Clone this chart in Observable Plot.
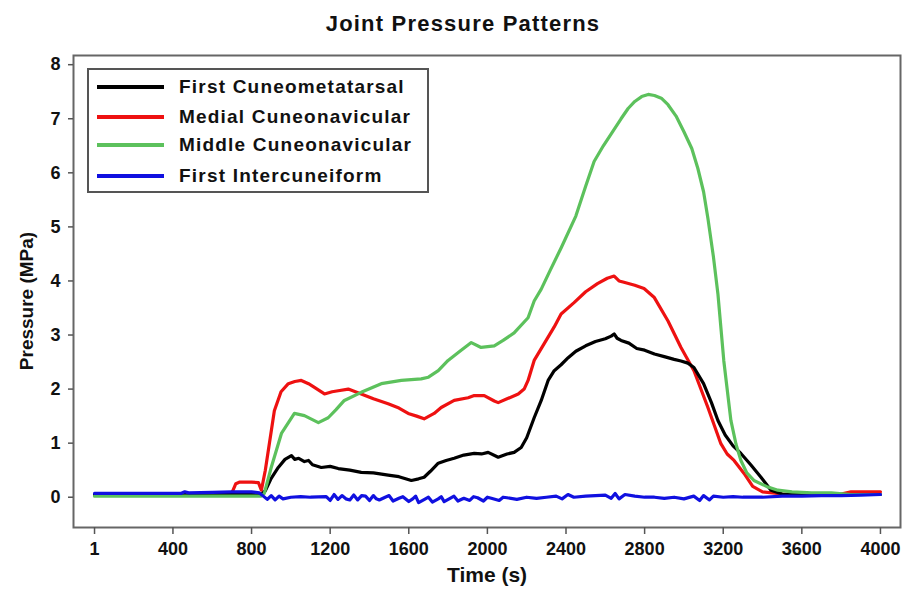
<!DOCTYPE html>
<html><head><meta charset="utf-8">
<script src="https://cdn.jsdelivr.net/npm/d3@7"></script>
<script src="https://cdn.jsdelivr.net/npm/@observablehq/plot@0.6"></script>
<style>
body{margin:0;background:#fff;font-family:"Liberation Sans",Arial,sans-serif;}
#wrap{position:relative;width:904px;height:590px;overflow:hidden;}
.lbl{position:absolute;white-space:nowrap;line-height:1;font-weight:bold;color:#111;}
#legend{position:absolute;left:87px;top:68px;width:338px;height:121px;border:2px solid #555;}
.lgline{position:absolute;left:8px;width:67px;height:4px;}
.lgtext{position:absolute;left:90px;white-space:nowrap;line-height:1;font-size:19px;font-weight:bold;letter-spacing:1.2px;color:#111;}
</style></head><body><div id="wrap"></div>
<script>
// ---- data ----
const title = "Joint Pressure Patterns";
const xLabel = "Time (s)";
const yLabel = "Pressure (MPa)";
const xTicks = [1, 400, 800, 1200, 1600, 2000, 2400, 2800, 3200, 3600, 4000];
const yTicks = [0, 1, 2, 3, 4, 5, 6, 7, 8];
const seriesNames = ["First Cuneometatarsal", "Medial Cuneonavicular", "Middle Cuneonavicular", "First Intercuneiform"];
const seriesColors = ["#000000", "#ee1111", "#5cc15c", "#1010e0"];

const tBlack = [1,200,400,600,800,850,870,900,936,970,1003,1020,1040,1069,1090,1110,1155,1200,1241,1300,1358,1420,1495,1550,1613,1650,1678,1710,1750,1790,1831,1880,1933,1970,2004,2055,2100,2136,2172,2200,2238,2274,2309,2340,2375,2411,2450,2500,2550,2600,2630,2645,2660,2680,2720,2760,2800,2850,2900,2950,2985,3020,3051,3100,3140,3173,3210,3250,3290,3340,3392,3443,3500,3600,3700,3800,3900,4000];
const vBlack = [0.05,0.05,0.05,0.05,0.05,0.05,0.12,0.35,0.55,0.7,0.77,0.7,0.72,0.66,0.68,0.6,0.55,0.57,0.53,0.5,0.46,0.45,0.41,0.38,0.31,0.34,0.37,0.48,0.63,0.68,0.72,0.78,0.81,0.8,0.83,0.74,0.8,0.83,0.92,1.1,1.47,1.79,2.16,2.34,2.45,2.58,2.7,2.8,2.88,2.93,2.98,3.02,2.94,2.9,2.85,2.75,2.72,2.65,2.6,2.55,2.52,2.48,2.4,2.1,1.75,1.42,1.15,0.95,0.81,0.6,0.37,0.13,0.06,0.05,0.05,0.05,0.05,0.05];

const tRed = [1,300,600,700,720,740,800,835,850,870,916,950,987,1020,1053,1090,1120,1171,1210,1241,1292,1358,1420,1495,1550,1597,1640,1678,1729,1765,1831,1902,1933,1984,2035,2055,2100,2157,2187,2207,2238,2289,2340,2375,2441,2500,2560,2610,2645,2670,2690,2750,2797,2848,2919,2985,3051,3122,3188,3220,3255,3306,3350,3400,3500,3600,3700,3800,3850,3900,4000];
const vRed = [0.05,0.05,0.05,0.08,0.25,0.28,0.28,0.27,0.13,0.5,1.6,1.95,2.1,2.14,2.16,2.1,2.03,1.91,1.95,1.97,2.0,1.91,1.82,1.73,1.65,1.55,1.5,1.45,1.55,1.66,1.79,1.84,1.88,1.88,1.78,1.75,1.82,1.91,2.0,2.16,2.53,2.84,3.15,3.39,3.6,3.8,3.95,4.05,4.09,4.0,3.98,3.92,3.86,3.7,3.26,2.77,2.34,1.66,0.99,0.8,0.68,0.44,0.2,0.1,0.06,0.05,0.05,0.06,0.1,0.1,0.1];

const tGreen = [1,400,800,850,865,900,952,1018,1069,1140,1190,1230,1272,1358,1460,1562,1663,1700,1750,1800,1860,1918,1968,2035,2080,2136,2207,2238,2274,2320,2375,2450,2500,2543,2590,2630,2680,2716,2750,2785,2818,2850,2885,2919,2960,3000,3040,3071,3100,3122,3150,3173,3203,3239,3265,3290,3320,3356,3420,3478,3550,3650,3750,3850,4000];
const vGreen = [0.02,0.02,0.02,0.02,0.07,0.55,1.18,1.55,1.51,1.38,1.47,1.62,1.79,1.94,2.1,2.16,2.19,2.22,2.34,2.53,2.7,2.86,2.77,2.8,2.9,3.04,3.32,3.63,3.85,4.2,4.61,5.2,5.75,6.21,6.5,6.72,7.0,7.19,7.32,7.41,7.45,7.43,7.38,7.26,7.05,6.76,6.45,6.08,5.65,5.16,4.45,3.76,2.52,1.42,0.98,0.68,0.45,0.31,0.2,0.13,0.1,0.08,0.08,0.05,0.05];

const tBlue = [1,300,440,460,480,600,700,800,840,860,880,900,920,940,960,1000,1050,1100,1180,1200,1220,1240,1260,1280,1300,1320,1340,1360,1380,1400,1420,1435,1450,1480,1500,1520,1550,1570,1600,1620,1635,1650,1680,1700,1720,1750,1765,1780,1810,1830,1850,1880,1910,1930,1950,1980,2000,2020,2060,2080,2100,2150,2200,2250,2300,2350,2380,2410,2440,2500,2550,2600,2630,2650,2670,2700,2750,2800,2850,2900,2950,3000,3050,3080,3100,3130,3150,3200,3250,3300,3400,3500,3600,3700,3800,3900,4000];
const vBlue = [0.07,0.07,0.07,0.1,0.08,0.09,0.1,0.1,0.08,0.02,-0.04,0.03,-0.05,0.02,-0.03,0.0,0.01,0.0,0.01,-0.06,0.05,-0.04,0.03,-0.03,-0.05,0.04,-0.05,0.03,0.02,-0.06,0.03,-0.03,-0.05,0.0,0.03,-0.07,-0.02,0.01,-0.08,-0.03,0.02,-0.1,-0.04,0.0,-0.09,-0.03,0.01,-0.08,-0.02,0.02,-0.07,-0.02,-0.06,0.01,-0.01,-0.07,0.0,-0.02,-0.06,0.0,-0.01,-0.04,0.0,-0.02,0.0,0.02,-0.03,0.05,0.0,0.02,0.03,0.04,-0.02,0.07,-0.03,0.05,0.02,0.0,0.0,-0.02,0.0,-0.03,0.02,-0.06,0.03,-0.05,0.02,0.0,0.01,0.0,0.0,0.02,0.02,0.03,0.03,0.04,0.05];

// ---- build ----
const seriesT = [tBlack, tRed, tGreen, tBlue];
const seriesV = [vBlack, vRed, vGreen, vBlue];
const rows = [];
seriesNames.forEach((name, k) => seriesT[k].forEach((t, i) => rows.push({name, t, v: seriesV[k][i]})));
const drawOrder = [1, 0, 2, 3];

const chart = Plot.plot({
  width: 904, height: 590,
  marginLeft: 73, marginRight: 4, marginTop: 55, marginBottom: 63,
  style: {fontFamily: "'Liberation Sans', Arial, sans-serif", fontSize: "18px", fontWeight: "bold", color: "#111", background: "#fff"},
  x: {domain: [-106, 4102]},
  y: {domain: [-0.56, 8.17]},
  marks: [
    Plot.frame({stroke: "#666", strokeWidth: 2}),
    Plot.axisX({ticks: xTicks, tickSize: 7, tickPadding: 8, label: null, tickFormat: d => String(d), stroke: "#555", strokeWidth: 1.5}),
    Plot.axisY({ticks: yTicks, tickSize: 5, tickPadding: 8, label: null, tickFormat: d => String(d), stroke: "#555", strokeWidth: 1.5}),
    ...drawOrder.map(k => Plot.line(rows.filter(r => r.name === seriesNames[k]), {x: "t", y: "v", stroke: seriesColors[k], strokeWidth: 3.2, strokeLinejoin: "round"}))
  ]
});
const wrap = document.getElementById("wrap");
wrap.appendChild(chart);

function addLabel(text, fs, css) {
  const d = document.createElement("div");
  d.className = "lbl";
  d.textContent = text;
  d.style.fontSize = fs + "px";
  Object.assign(d.style, css);
  wrap.appendChild(d);
  return d;
}
addLabel(title, 22, {left: "463px", top: (32 - 0.8465 * 22) + "px", transform: "translateX(-50%)", letterSpacing: "1.2px"});
addLabel(xLabel, 21, {left: "487px", top: (582 - 0.8465 * 21) + "px", transform: "translateX(-50%)"});
addLabel(yLabel, 19, {left: "26px", top: "301px", transform: "translate(-50%,-50%) rotate(-90deg)"});

const legend = document.createElement("div");
legend.id = "legend";
wrap.appendChild(legend);
const rowY = [19, 49, 77, 108];
seriesNames.forEach((name, k) => {
  const ln = document.createElement("div");
  ln.className = "lgline";
  ln.style.top = (rowY[k] - 2 - 2) + "px";
  ln.style.background = seriesColors[k];
  legend.appendChild(ln);
  const tx = document.createElement("div");
  tx.className = "lgtext";
  tx.textContent = name;
  tx.style.top = (rowY[k] - 2 + 6.5 - 0.8465 * 19) + "px";
  legend.appendChild(tx);
});
</script>
</body></html>
